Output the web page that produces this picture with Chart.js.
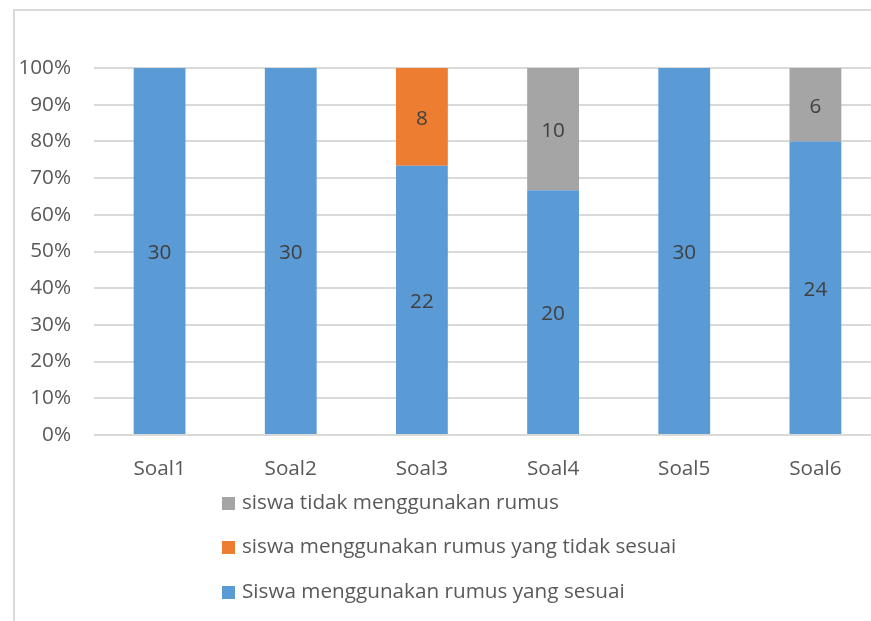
<!DOCTYPE html>
<html>
<head>
<meta charset="utf-8">
<script src="https://cdn.jsdelivr.net/npm/chart.js@4.4.1/dist/chart.umd.min.js"></script>
<style>
  html, body { margin: 0; padding: 0; background: #fff; overflow: hidden; }
  #wrap { position: absolute; left: 0; top: 0; width: 890px; height: 621px; }
</style>
</head>
<body>
<div id="wrap"><canvas id="grafik" width="890" height="621"></canvas></div>
<script>
// ── DATA ──────────────────────────────────────────────────────────────────────
var kategori      = ['Soal1', 'Soal2', 'Soal3', 'Soal4', 'Soal5', 'Soal6'];
var sesuai        = [30, 30, 22, 20, 30, 24];
var tidakSesuai   = [0, 0, 8, 0, 0, 0];
var tidakRumus    = [0, 0, 0, 10, 0, 6];
var labelSeri     = ['Siswa menggunakan rumus yang sesuai',
                     'siswa menggunakan rumus yang tidak sesuai',
                     'siswa tidak menggunakan rumus'];
var warnaSeri     = ['#5B9BD5', '#ED7D31', '#A5A5A5'];
var tickY         = [0, 10, 20, 30, 40, 50, 60, 70, 80, 90, 100];

var FONT = '"Open Sans", "DejaVu Sans", sans-serif';
var UKURAN = 20.7;

// 100% stacked: convert counts to share of each question's total
var jumlah = kategori.map(function(_, i) { return sesuai[i] + tidakSesuai[i] + tidakRumus[i]; });
function persen(arr) { return arr.map(function(v, i) { return v / jumlah[i] * 100; }); }

var seriMentah = [sesuai, tidakSesuai, tidakRumus];

// ── PLUGINS ───────────────────────────────────────────────────────────────────
var bingkai = {
  id: 'bingkai',
  beforeDraw: function(chart) {
    var c = chart.ctx;
    c.save();
    c.strokeStyle = '#d9d9d9';
    c.lineWidth = 2;
    c.beginPath();
    c.moveTo(14, chart.height + 2);
    c.lineTo(14, 10);
    c.lineTo(chart.width + 2, 10);
    c.stroke();
    c.restore();
  }
};

var labelNilai = {
  id: 'labelNilai',
  afterDatasetsDraw: function(chart) {
    var c = chart.ctx;
    c.save();
    c.font = UKURAN + 'px ' + FONT;
    c.fillStyle = '#404040';
    c.textAlign = 'center';
    c.textBaseline = 'middle';
    chart.data.datasets.forEach(function(ds, di) {
      chart.getDatasetMeta(di).data.forEach(function(bar, i) {
        var v = seriMentah[di][i];
        if (!v) return;
        var p = bar.getProps(['x', 'y', 'base'], true);
        c.fillText(String(v), p.x, (p.y + p.base) / 2 + 2);
      });
    });
    c.restore();
  }
};

var legendaBawah = {
  id: 'legendaBawah',
  afterDraw: function(chart) {
    var c = chart.ctx;
    var barisY = [503, 547, 592];
    c.save();
    c.font = UKURAN + 'px ' + FONT;
    c.textBaseline = 'middle';
    c.textAlign = 'left';
    var urutan = [2, 1, 0];
    urutan.forEach(function(di, k) {
      var ds = chart.data.datasets[di];
      c.fillStyle = ds.backgroundColor;
      c.fillRect(222, barisY[k] - 6, 13, 13);
      c.fillStyle = '#595959';
      c.fillText(ds.label, 242, barisY[k]);
    });
    c.restore();
  }
};

// ── CHART ─────────────────────────────────────────────────────────────────────
var ctx = document.getElementById('grafik').getContext('2d');
new Chart(ctx, {
  type: 'bar',
  data: {
    labels: kategori,
    datasets: seriMentah.map(function(arr, i) {
      return {
        label: labelSeri[i],
        data: persen(arr),
        backgroundColor: warnaSeri[i],
        borderWidth: 0,
        categoryPercentage: 1,
        barPercentage: 0.395
      };
    })
  },
  options: {
    responsive: false,
    animation: false,
    devicePixelRatio: 1,
    layout: { padding: { left: 0, right: 9, top: 68, bottom: 0 } },
    plugins: {
      legend: { display: false },
      tooltip: { enabled: false }
    },
    scales: {
      x: {
        stacked: true,
        grid: { display: false },
        border: { display: false },
        ticks: { color: '#595959', font: { family: FONT, size: UKURAN }, padding: 14 },
        afterFit: function(s) { s.height = 186; }
      },
      y: {
        stacked: true,
        min: 0,
        max: 100,
        afterBuildTicks: function(s) { s.ticks = tickY.map(function(v) { return { value: v }; }); },
        grid: { color: '#d9d9d9', lineWidth: 2, drawTicks: false },
        border: { display: false },
        ticks: {
          color: '#595959',
          font: { family: FONT, size: UKURAN },
          padding: 23,
          callback: function(v) { return v + '%'; }
        },
        afterFit: function(s) { s.width = 94; }
      }
    }
  },
  plugins: [bingkai, labelNilai, legendaBawah]
});
</script>
</body>
</html>
